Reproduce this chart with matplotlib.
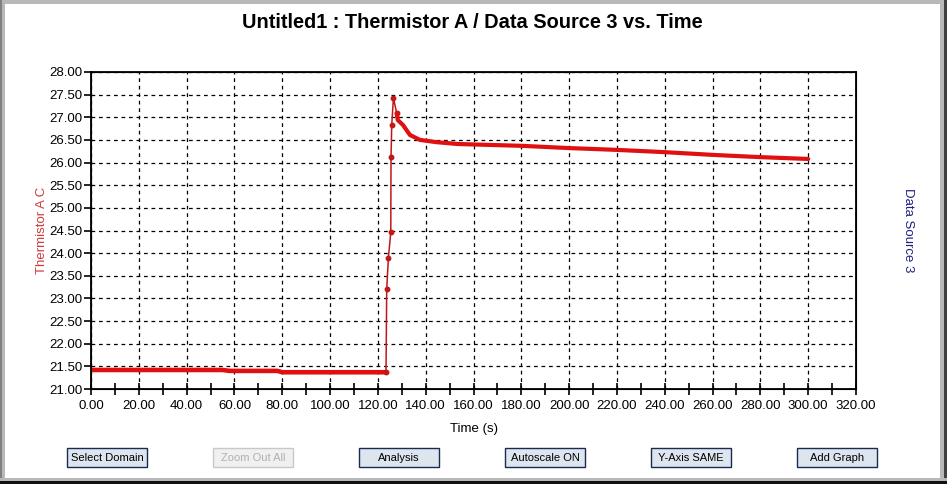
import numpy as np
from matplotlib import pyplot as plt
from matplotlib.patches import Rectangle

plt.rcParams['font.family'] = ['Liberation Sans', 'DejaVu Sans']

#%% Data
time = [0, 10, 20, 30, 40, 50, 55, 58, 65, 70, 78, 80, 90, 100, 110, 120, 123.4,
        123.7, 124.4, 125.4, 125.5, 125.8, 126.5, 127.9,
        128.3, 130.5, 133.4, 137.6, 144.6, 153.5, 160, 180, 200, 220, 240, 260, 280, 300]
temp = [21.42, 21.42, 21.42, 21.42, 21.42, 21.42, 21.42, 21.40, 21.40, 21.40, 21.40,
        21.37, 21.37, 21.37, 21.37, 21.37, 21.37,
        23.20, 23.90, 24.46, 26.13, 26.83, 27.42, 27.09,
        26.94, 26.83, 26.61, 26.50, 26.45, 26.41, 26.40, 26.37, 26.32, 26.28, 26.23,
        26.17, 26.12, 26.08]
i_rise = 16   # last point before the jump
i_tail = 23   # first point of the slow decay

xticks = np.arange(0, 321, 20)
yticks = np.arange(21, 28.01, 0.5)
buttons = ["Select Domain", "Zoom Out All", "Analysis", "Autoscale ON", "Y-Axis SAME", "Add Graph"]

W, H = 947, 484
fig = plt.figure(figsize=(W / 100, H / 100), dpi=100)
fig.patch.set_facecolor('white')

#%% Window frame
def px_rect(x0, y0, w, h, **kw):
    fig.patches.append(Rectangle((x0 / W, 1 - (y0 + h) / H), w / W, h / H,
                                 transform=fig.transFigure, **kw))

px_rect(0, 0, W, 4, color='#b8b8b8', lw=0)
px_rect(0, 0, 5, H, color='#b8b8b8', lw=0)
px_rect(0, 0, 2, H, color='#808080', lw=0)
px_rect(W - 7, 0, 7, H, color='#b8b8b8', lw=0)
px_rect(W - 3, 0, 3, H, color='#404040', lw=0)
px_rect(0, H - 6, W, 6, color='#b8b8b8', lw=0)
px_rect(0, H - 3, W, 3, color='#101010', lw=0)

#%% Axes
ax = fig.add_axes([91 / W, 1 - 389 / H, (856 - 91) / W, (389 - 72) / H])
ax.plot(time[:i_rise + 1], temp[:i_rise + 1], color='#e01010', lw=3.3, solid_capstyle='butt')
ax.plot(time[i_rise:i_tail + 1], temp[i_rise:i_tail + 1], color='#c01818', lw=1.1,
        marker='o', ms=3.2)
ax.plot(time[i_tail:], temp[i_tail:], color='#e01010', lw=3.0, solid_capstyle='round')

ax.set_xlim(0, 320)
ax.set_ylim(21, 28)
ax.set_xticks(xticks)
ax.set_xticks(np.arange(10, 320, 20), minor=True)
ax.set_yticks(yticks)
ax.set_xticklabels([f"{v:.2f}" for v in xticks])
ax.set_yticklabels([f"{v:.2f}" for v in yticks])
ax.grid(True, which='major', color='black', ls=(0, (3, 3)), lw=0.9)
ax.tick_params(axis='x', which='both', direction='inout', length=8, width=1.2,
               labelsize=9.5, pad=4)
ax.tick_params(axis='y', direction='out', length=5, width=1.2, labelsize=9.5, pad=1,
               left=True, right=True, labelright=True)
for s in ax.spines.values():
    s.set_linewidth(1.3)

ax.set_xlabel("Time (s)", fontsize=9.5, labelpad=8)
ax.set_ylabel("Thermistor A C", fontsize=9.5, color='#d03a3a', labelpad=1)
ax2 = ax.twinx()
ax2.set_ylim(21, 28)
ax2.set_yticks([])
ax2.set_ylabel("Data Source 3", fontsize=9.5, color='#202080', rotation=270,
               labelpad=42)

fig.text(472 / W, 1 - 22 / H, "Untitled1 : Thermistor A / Data Source 3 vs. Time",
         ha='center', va='center', fontsize=14.4, fontweight='bold')

#%% Buttons
for k, name in enumerate(buttons):
    cx = 107 + k * 146
    grey = name == "Zoom Out All"
    px_rect(cx - 40, 448, 80, 19,
            facecolor='#f0f0f0' if grey else '#dde6ef',
            edgecolor='#c8c8c8' if grey else '#1a2a50', lw=1)
    fig.text(cx / W, 1 - 458 / H, name, ha='center', va='center', fontsize=8,
             color='#b0b0b0' if grey else 'black')

fig.savefig("out.png", dpi=100)
